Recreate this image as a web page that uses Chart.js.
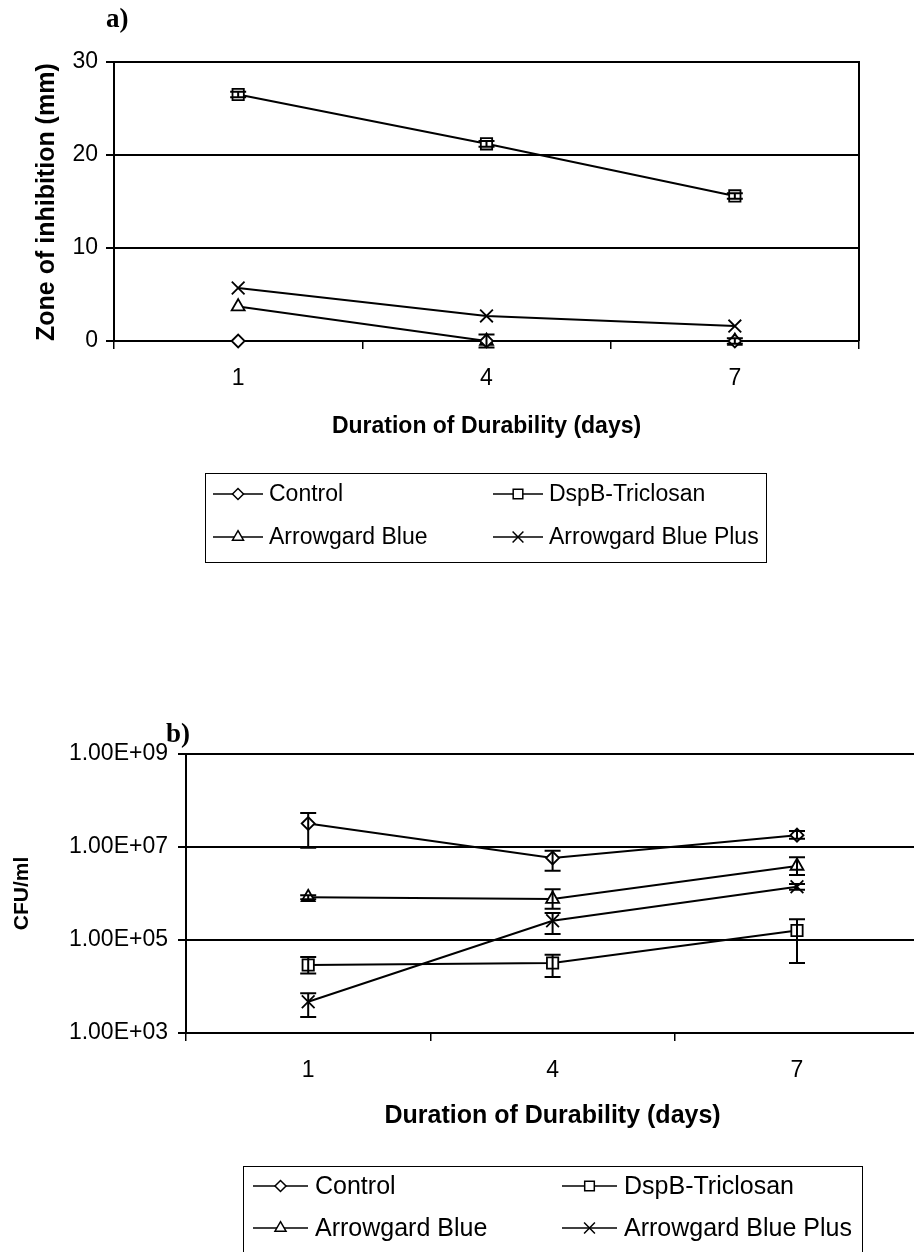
<!DOCTYPE html>
<html>
<head>
<meta charset="utf-8">
<script src="https://cdn.jsdelivr.net/npm/chart.js@4.4.0/dist/chart.umd.min.js"></script>
<style>
html, body { margin: 0; padding: 0; background: #fff; overflow: hidden; width: 914px; height: 1252px; }
#wrapA { position: absolute; left: 0; top: 0; width: 914px; height: 610px; }
#wrapB { position: absolute; left: 0; top: 690px; width: 930px; height: 562px; }
.panel { position: absolute; z-index: 2; font-family: 'Liberation Serif', 'Times New Roman', serif; font-weight: bold; font-size: 27px; }
</style>
</head>
<body>
<div id="wrapA"><canvas id="chartA" width="914" height="610"></canvas></div>
<div id="wrapB"><canvas id="chartB" width="930" height="562"></canvas></div>
<div class="panel" style="left:106px; top:3px;">a)</div>
<div class="panel" style="left:166px; top:718px;">b)</div>
<script>
// Categorías (días)
const days = ['1', '4', '7'];
const seriesNames = ['Control', 'DspB-Triclosan', 'Arrowgard Blue', 'Arrowgard Blue Plus'];
const seriesMarkers = ['rectRot', 'rect', 'triangle', 'crossRot'];
const markerSizes = [6.5, 8, 7.5, 9];

// a) Zona de inhibición (mm)
const controlA = [0, 0, 0];
const dspbA = [26.5, 21.2, 15.6];
const blueA = [3.7, 0, 0];
const bluePlusA = [5.7, 2.7, 1.6];
const controlErrA = [0, 0, 0];
const dspbErrA = [0.3, 0.3, 0.3];
const blueErrA = [0, 0.7, 0.3];
const bluePlusErrA = [0, 0, 0];
const yTicksA = [0, 10, 20, 30];

// b) CFU/ml
const controlB = [3.2e7, 5.8e6, 1.8e7];
const controlLowB = [9.6e6, 3.1e6, 1.5e7];
const controlHighB = [5.4e7, 8.3e6, 2.2e7];
const dspbB = [2.9e4, 3.2e4, 1.6e5];
const dspbLowB = [1.9e4, 1.6e4, 3.2e4];
const dspbHighB = [4.3e4, 4.8e4, 2.8e5];
const blueB = [8.3e5, 7.6e5, 3.9e6];
const blueLowB = [7.5e5, 4.7e5, 2.5e6];
const blueHighB = [9.2e5, 1.23e6, 6.0e6];
const bluePlusB = [4.7e3, 2.6e5, 1.4e6];
const bluePlusLowB = [2.2e3, 1.35e5, 1.2e6];
const bluePlusHighB = [7.2e3, 3.8e5, 1.6e6];
const yTicksB = [1e3, 1e5, 1e7, 1e9];

const FONT = "'Liberation Sans', Arial, sans-serif";
Chart.defaults.font.family = FONT;
Chart.defaults.color = '#000';

// Serie de línea con marcador hueco
function serie(i, values, low, high) {
    return {
        label: seriesNames[i],
        data: values,
        errLow: low,
        errHigh: high,
        borderColor: '#000',
        borderWidth: 2,
        backgroundColor: '#fff',
        pointStyle: seriesMarkers[i],
        pointRadius: markerSizes[i],
        pointBorderColor: '#000',
        pointBackgroundColor: '#fff',
        pointBorderWidth: 1.8,
        tension: 0,
        clip: false
    };
}

// Barras de error
const errorBars = {
    id: 'errorBars',
    afterDatasetsDraw(chart) {
        const ctx = chart.ctx;
        const y = chart.scales.y;
        ctx.save();
        ctx.strokeStyle = '#000';
        ctx.lineWidth = 2;
        chart.data.datasets.forEach((ds, di) => {
            const meta = chart.getDatasetMeta(di);
            meta.data.forEach((pt, k) => {
                const lo = ds.errLow[k], hi = ds.errHigh[k];
                if (lo === hi) return;
                const y1 = y.getPixelForValue(lo), y2 = y.getPixelForValue(hi);
                ctx.beginPath();
                ctx.moveTo(pt.x, y1); ctx.lineTo(pt.x, y2);
                ctx.moveTo(pt.x - 8, y1); ctx.lineTo(pt.x + 8, y1);
                ctx.moveTo(pt.x - 8, y2); ctx.lineTo(pt.x + 8, y2);
                ctx.stroke();
            });
        });
        ctx.restore();
    }
};

// Borde derecho del área del gráfico
const rightBorder = {
    id: 'rightBorder',
    afterDraw(chart, args, opts) {
        if (!opts.show) return;
        const a = chart.chartArea, ctx = chart.ctx;
        ctx.save();
        ctx.strokeStyle = '#000';
        ctx.lineWidth = 2;
        ctx.beginPath();
        ctx.moveTo(a.right, a.top - 1);
        ctx.lineTo(a.right, a.bottom);
        ctx.stroke();
        ctx.restore();
    }
};

// Leyenda en recuadro (estilo Excel)
const boxLegend = {
    id: 'boxLegend',
    afterDraw(chart, args, o) {
        const ctx = chart.ctx;
        ctx.save();
        ctx.strokeStyle = '#000';
        ctx.lineWidth = 1;
        ctx.strokeRect(o.x + 0.5, o.y + 0.5, o.w, o.h);
        ctx.font = o.font;
        ctx.fillStyle = '#000';
        ctx.textBaseline = 'middle';
        chart.data.datasets.forEach((ds, i) => {
            const lx = o.cols[i % 2], ly = o.rows[Math.floor(i / 2)];
            ctx.strokeStyle = '#000';
            ctx.lineWidth = 1.5;
            ctx.beginPath();
            ctx.moveTo(lx, ly);
            ctx.lineTo(lx + o.lineLen, ly);
            ctx.stroke();
            ctx.fillStyle = '#fff';
            ctx.lineWidth = 1.5;
            Chart.helpers.drawPoint(ctx, { pointStyle: ds.pointStyle, radius: ds.pointRadius * 0.85, borderWidth: 1.5, rotation: 0 }, lx + o.lineLen / 2, ly);
            ctx.fillStyle = '#000';
            ctx.fillText(ds.label, lx + o.lineLen + o.gap, ly + 1);
        });
        ctx.restore();
    }
};

function fmtExp(v) {
    const e = Math.round(Math.log10(v));
    const m = v / Math.pow(10, e);
    return m.toFixed(2) + 'E+' + String(e).padStart(2, '0');
}

// Gráfico a
new Chart(document.getElementById('chartA'), {
    type: 'line',
    data: {
        labels: days,
        datasets: [
            serie(0, controlA, controlA.map((v, k) => v - controlErrA[k]), controlA.map((v, k) => v + controlErrA[k])),
            serie(1, dspbA, dspbA.map((v, k) => v - dspbErrA[k]), dspbA.map((v, k) => v + dspbErrA[k])),
            serie(2, blueA, blueA.map((v, k) => v - blueErrA[k]), blueA.map((v, k) => v + blueErrA[k])),
            serie(3, bluePlusA, bluePlusA.map((v, k) => v - bluePlusErrA[k]), bluePlusA.map((v, k) => v + bluePlusErrA[k]))
        ]
    },
    options: {
        responsive: false,
        animation: false,
        layout: { padding: { left: 0, top: 62, right: 55, bottom: 159 } },
        plugins: {
            legend: { display: false },
            tooltip: { enabled: false },
            rightBorder: { show: true },
            boxLegend: {
                x: 205, y: 473, w: 561, h: 89,
                cols: [213, 493], rows: [494, 537],
                lineLen: 50, gap: 6,
                font: "23px " + FONT
            }
        },
        scales: {
            x: {
                offset: true,
                afterFit(s) { s.height = 110; },
                grid: { display: true, drawOnChartArea: false, drawTicks: true, tickLength: 8, offset: true, color: '#000', lineWidth: 1.5 },
                border: { display: true, color: '#000', width: 2 },
                ticks: { color: '#000', font: { size: 23 }, padding: 16 },
                title: { display: true, text: 'Duration of Durability (days)', color: '#000', font: { size: 23, weight: 'bold' }, padding: { top: 0, bottom: 11 } }
            },
            y: {
                min: 0, max: 30,
                afterFit(s) { s.width = 114; },
                afterBuildTicks(s) { s.ticks = yTicksA.map(v => ({ value: v })); },
                grid: { color: '#000', lineWidth: 2, tickLength: 8, drawTicks: true },
                border: { display: true, color: '#000', width: 2 },
                ticks: { color: '#000', font: { size: 23 }, padding: 8 },
                title: { display: true, align: 'start', text: 'Zone of inhibition (mm)', color: '#000', font: { size: 25, weight: 'bold' }, padding: { top: 32, bottom: 0 } }
            }
        }
    },
    plugins: [errorBars, rightBorder, boxLegend]
});

// Gráfico b
new Chart(document.getElementById('chartB'), {
    type: 'line',
    data: {
        labels: days,
        datasets: [
            serie(0, controlB, controlLowB, controlHighB),
            serie(1, dspbB, dspbLowB, dspbHighB),
            serie(2, blueB, blueLowB, blueHighB),
            serie(3, bluePlusB, bluePlusLowB, bluePlusHighB)
        ]
    },
    options: {
        responsive: false,
        animation: false,
        layout: { padding: { left: 0, top: 64, right: 6, bottom: 119 } },
        plugins: {
            legend: { display: false },
            tooltip: { enabled: false },
            rightBorder: { show: false },
            boxLegend: {
                x: 243, y: 476, w: 619, h: 100,
                cols: [253, 562], rows: [496, 538],
                lineLen: 55, gap: 7,
                font: "25px " + FONT
            }
        },
        scales: {
            x: {
                offset: true,
                afterFit(s) { s.height = 100; },
                grid: { display: true, drawOnChartArea: false, drawTicks: true, tickLength: 8, offset: true, color: '#000', lineWidth: 1.5 },
                border: { display: true, color: '#000', width: 2 },
                ticks: { color: '#000', font: { size: 23 }, padding: 16 },
                title: { display: true, text: 'Duration of Durability (days)', color: '#000', font: { size: 25, weight: 'bold' }, padding: { top: 0, bottom: 2 } }
            },
            y: {
                type: 'logarithmic',
                min: 1e3, max: 1e9,
                afterFit(s) { s.width = 186; },
                afterBuildTicks(s) { s.ticks = yTicksB.map(v => ({ value: v })); },
                grid: { color: '#000', lineWidth: 2, tickLength: 8, drawTicks: true },
                border: { display: true, color: '#000', width: 2 },
                ticks: { color: '#000', font: { size: 23 }, padding: 10, callback: v => fmtExp(v) },
                title: { display: true, text: 'CFU/ml', color: '#000', font: { size: 21, weight: 'bold' }, padding: { top: 10, bottom: 0 } }
            }
        }
    },
    plugins: [errorBars, rightBorder, boxLegend]
});
</script>
</body>
</html>
